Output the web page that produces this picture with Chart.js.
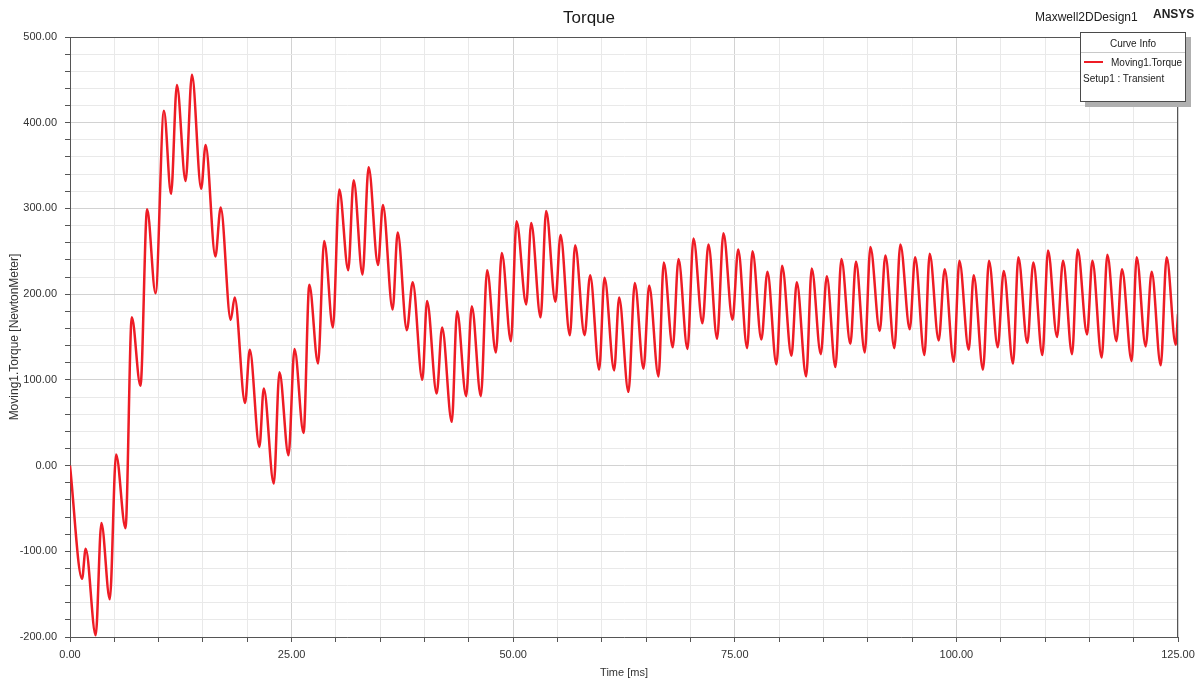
<!DOCTYPE html>
<html>
<head>
<meta charset="utf-8">
<script src="https://cdn.jsdelivr.net/npm/chart.js@4/dist/chart.umd.min.js"></script>
<style>
  html, body { margin: 0; padding: 0; background: #fff; }
  #wrap { position: relative; width: 1204px; height: 686px; overflow: hidden;
          font-family: "Liberation Sans", Arial, sans-serif; color: #222; }
  #c { position: absolute; left: 0; top: 0; }
  .txt { position: absolute; white-space: nowrap; }
  #design { left: 1035px; top: 9px; font-size: 12px; line-height: 16px; }
  #ansys { left: 1153px; top: 6px; font-size: 12px; line-height: 16px; font-weight: bold; }
  #legend { position: absolute; left: 1080px; top: 32px; width: 104px; height: 68px;
            border: 1px solid #4a4a4a; background: #fff; box-shadow: 5px 5px 0 #b0b0b0; }
  #legend .hdr { position: absolute; left: 0; width: 104px; top: 5px; text-align: center;
                 font-size: 10px; line-height: 12px; }
  #legend .sep { position: absolute; left: 0; width: 104px; top: 19px; height: 0;
                 border-top: 1px solid #c8c8c8; }
  #legend .swatch { position: absolute; left: 3px; top: 28px; width: 19px; height: 0;
                    border-top: 2px solid #ee1c25; }
  #legend .name { position: absolute; left: 30px; top: 24px; font-size: 10px; line-height: 12px; }
  #legend .setup { position: absolute; left: 2px; top: 40px; font-size: 10px; line-height: 12px; }
</style>
</head>
<body>
<div id="wrap">
  <canvas id="c" width="1204" height="686"></canvas>
  <div class="txt" id="design">Maxwell2DDesign1</div>
  <div class="txt" id="ansys">ANSYS</div>
  <div id="legend">
    <div class="hdr">Curve Info</div>
    <div class="sep"></div>
    <div class="swatch"></div>
    <div class="name">Moving1.Torque</div>
    <div class="setup">Setup1 : Transient</div>
  </div>
</div>
<script>
// ---- data (turning points of the curve) ----
const timeMs = [
  0, 1.36, 1.77, 2.9, 3.54, 4.49, 5.2, 6.26, 6.97, 7.95,
  8.7, 9.65, 10.6, 11.4, 12.06, 13.04, 13.76, 14.8, 15.3, 16.4,
  17.0, 18.13, 18.58, 19.75, 20.28, 21.37, 21.86, 22.99, 23.63, 24.65,
  25.33, 26.35, 27.0, 27.98, 28.68, 29.66, 30.38, 31.39, 32.0, 33.0,
  33.69, 34.75, 35.3, 36.4, 36.97, 38.0, 38.66, 39.75, 40.28, 41.37,
  41.98, 43.07, 43.67, 44.69, 45.33, 46.35, 47.06, 48.04, 48.72, 49.74,
  50.38, 51.47, 52.03, 53.09, 53.72, 54.76, 55.34, 56.39, 56.99, 58.05,
  58.68, 59.7, 60.3, 61.39, 61.95, 63.0, 63.72, 64.7, 65.34, 66.39,
  66.99, 68.0, 68.65, 69.66, 70.34, 71.35, 72.03, 73.0, 73.72, 74.74,
  75.38, 76.39, 77.0, 78.0, 78.68, 79.7, 80.34, 81.39, 81.99, 83.05,
  83.68, 84.7, 85.38, 86.35, 87.03, 88.04, 88.67, 89.66, 90.3, 91.35,
  91.99, 93.0, 93.68, 94.74, 95.34, 96.39, 96.99, 98.0, 98.68, 99.7,
  100.34, 101.39, 101.95, 103.0, 103.68, 104.66, 105.34, 106.39, 106.99, 108.0,
  108.68, 109.7, 110.34, 111.35, 112.03, 113.05, 113.68, 114.74, 115.34, 116.39,
  117.03, 118.05, 118.68, 119.77, 120.34, 121.35, 122.03, 123.05, 123.72, 124.74,
  125
];
const torqueNm = [
  0, -132, -97, -198, -67, -156, 13, -73, 173, 93,
  299, 201, 414, 317, 444, 332, 456, 323, 374, 244,
  301, 170, 196, 73, 135, 22, 90, -21, 109, 12,
  136, 38, 211, 119, 262, 161, 322, 228, 333, 223,
  348, 234, 304, 182, 272, 158, 214, 100, 192, 84,
  161, 51, 180, 81, 186, 81, 228, 132, 248, 145,
  285, 188, 283, 173, 297, 191, 269, 152, 257, 152,
  222, 112, 219, 111, 196, 86, 213, 113, 210, 104,
  237, 138, 241, 136, 265, 166, 258, 148, 271, 170,
  252, 137, 250, 147, 226, 118, 233, 128, 214, 104,
  230, 130, 221, 115, 241, 142, 238, 132, 255, 157,
  245, 137, 258, 159, 243, 129, 247, 146, 229, 121,
  239, 135, 222, 112, 239, 138, 227, 119, 243, 143,
  237, 129, 251, 150, 239, 130, 252, 153, 239, 126,
  246, 145, 229, 122, 243, 139, 226, 117, 243, 141,
  177
];
const xRange = [0, 125];
const yRange = [-200, 500];
const xMajorStep = 25, xMinorStep = 5;
const yMajorStep = 100, yMinorStep = 20;

const FONT = '"Liberation Sans", Arial, sans-serif';
const isMult = (v, s) => Math.abs(v / s - Math.round(v / s)) < 1e-6;

const frame = {
  id: 'frame',
  afterDraw(chart) {
    const { ctx, chartArea: a } = chart;
    ctx.save();
    ctx.strokeStyle = '#555';
    ctx.lineWidth = 1;
    ctx.beginPath();
    ctx.moveTo(a.left, Math.round(a.top) + 0.5);
    ctx.lineTo(a.right, Math.round(a.top) + 0.5);
    ctx.moveTo(Math.round(a.right) - 0.5, a.top);
    ctx.lineTo(Math.round(a.right) - 0.5, a.bottom);
    ctx.stroke();
    ctx.restore();
  }
};

new Chart(document.getElementById('c'), {
  type: 'line',
  data: {
    datasets: [{
      label: 'Moving1.Torque',
      data: timeMs.map((t, i) => ({ x: t, y: torqueNm[i] })),
      borderColor: '#ee1c25',
      borderWidth: 2.5,
      pointRadius: 0,
      fill: false,
      cubicInterpolationMode: 'monotone'
    }]
  },
  options: {
    responsive: false,
    animation: false,
    layout: { padding: { left: 0, right: 26, top: 0, bottom: 0 } },
    plugins: {
      legend: { display: false },
      tooltip: { enabled: false },
      title: {
        display: true, text: 'Torque', color: '#1a1a1a',
        font: { family: FONT, size: 17, weight: 'normal' },
        padding: { top: 8, bottom: 8.6 }
      }
    },
    scales: {
      x: {
        type: 'linear', min: xRange[0], max: xRange[1],
        afterFit(s) { s.height = 49; },
        border: { color: '#555', width: 1 },
        grid: {
          color: c => isMult(c.tick.value, xMajorStep) ? '#d2d2d2' : '#e9e9e9',
          tickColor: '#555', tickLength: 5, drawTicks: true
        },
        ticks: {
          stepSize: xMinorStep, autoSkip: false, maxRotation: 0, padding: 6,
          color: '#333', font: { family: FONT, size: 11 },
          callback: v => isMult(v, xMajorStep) ? v.toFixed(2) : ''
        },
        title: {
          display: true, text: 'Time [ms]', color: '#333',
          font: { family: FONT, size: 11 }, padding: { top: 0, bottom: 6 }
        }
      },
      y: {
        type: 'linear', min: yRange[0], max: yRange[1],
        afterFit(s) { s.width = 70; },
        border: { color: '#555', width: 1 },
        grid: {
          color: c => isMult(c.tick.value, yMajorStep) ? '#d2d2d2' : '#e9e9e9',
          tickColor: '#555', tickLength: 5, drawTicks: true
        },
        ticks: {
          stepSize: yMinorStep, autoSkip: false, padding: 8,
          color: '#333', font: { family: FONT, size: 11 },
          callback: v => isMult(v, yMajorStep) ? v.toFixed(2) : ''
        },
        title: {
          display: true, text: 'Moving1.Torque [NewtonMeter]', color: '#333',
          font: { family: FONT, size: 12 }, padding: { top: 7, bottom: 0 }
        }
      }
    }
  },
  plugins: [frame]
});
</script>
</body>
</html>
